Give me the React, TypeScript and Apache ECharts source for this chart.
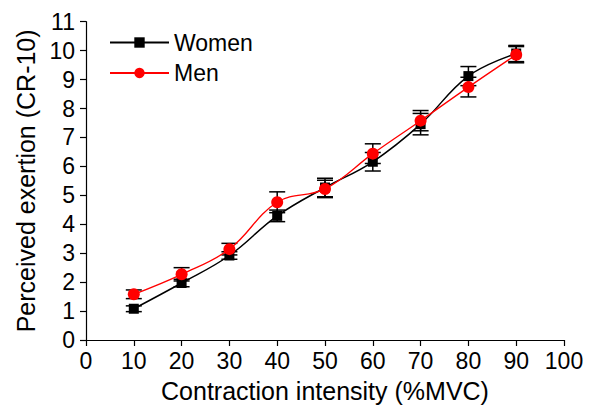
import React, { useEffect, useRef } from "react";
import * as echarts from "echarts";

const intensities = [10, 20, 30, 40, 50, 60, 70, 80, 90];
const womenMean = [1.08, 1.97, 2.92, 4.29, 5.27, 6.16, 7.46, 9.12, 9.9];
const womenErr = [0.1, 0.13, 0.13, 0.2, 0.32, 0.32, 0.37, 0.33, 0.28];
const menMean = [1.58, 2.27, 3.14, 4.76, 5.22, 6.44, 7.58, 8.74, 9.86];
const menErr = [0.15, 0.23, 0.2, 0.36, 0.3, 0.34, 0.35, 0.34, 0.28];
const xTicks = { min: 0, max: 100, interval: 10 };
const yTicks = { min: 0, max: 11, interval: 1 };

const FONT = "'Liberation Sans', Arial, sans-serif";

function errorSeries(name: string, means: number[], errs: number[]) {
  return {
    type: "custom",
    name: name + " error",
    z: 1,
    encode: { x: 0, y: [1, 2] },
    data: intensities.map((x, i) => [x, means[i] - errs[i], means[i] + errs[i]]),
    renderItem: (params: any, api: any) => {
      const x = api.value(0);
      const lo = api.coord([x, api.value(1)]);
      const hi = api.coord([x, api.value(2)]);
      const hw = 8;
      const style = { stroke: "#000", lineWidth: 1.5 };
      return {
        type: "group",
        children: [
          { type: "line", shape: { x1: lo[0], y1: lo[1], x2: hi[0], y2: hi[1] }, style },
          { type: "line", shape: { x1: lo[0] - hw, y1: lo[1], x2: lo[0] + hw, y2: lo[1] }, style },
          { type: "line", shape: { x1: hi[0] - hw, y1: hi[1], x2: hi[0] + hw, y2: hi[1] }, style },
        ],
      };
    },
  };
}

export default function App() {
  const ref = useRef<HTMLDivElement>(null);
  useEffect(() => {
    if (!ref.current) return;
    const chart = echarts.init(ref.current, undefined, { renderer: "svg" });
    const axisCommon = {
      axisLine: { show: true, lineStyle: { color: "#000", width: 1.2 } },
      axisTick: { show: true, inside: false, length: 6, lineStyle: { color: "#000", width: 1.2 } },
      splitLine: { show: false },
      nameTextStyle: { fontFamily: FONT, fontSize: 25, color: "#000" },
    };
    chart.setOption({
      animation: false,
      backgroundColor: "#fff",
      textStyle: { fontFamily: FONT },
      grid: { left: 86, right: 28, top: 21.7, bottom: 66, containLabel: false, outerBoundsMode: "none" },
      legend: {
        data: ["Women", "Men"],
        orient: "vertical",
        left: 109,
        top: 31,
        padding: 0,
        itemWidth: 59,
        itemHeight: 13,
        itemGap: 7.5,
        textStyle: { fontFamily: FONT, fontSize: 23, color: "#000", lineHeight: 23 },
      },
      xAxis: {
        type: "value",
        ...xTicks,
        ...axisCommon,
        name: "Contraction intensity (%MVC)",
        nameLocation: "middle",
        nameGap: 38,
        axisLabel: { fontFamily: FONT, fontSize: 23, color: "#000", margin: 9 },
      },
      yAxis: {
        type: "value",
        ...yTicks,
        ...axisCommon,
        name: "Perceived exertion (CR-10)",
        nameLocation: "middle",
        nameGap: 45,
        axisLabel: { fontFamily: FONT, fontSize: 23, color: "#000", margin: 11 },
      },
      series: [
        errorSeries("Women", womenMean, womenErr),
        errorSeries("Men", menMean, menErr),
        {
          type: "line",
          name: "Women",
          z: 3,
          smooth: 0.4,
          data: intensities.map((x, i) => [x, womenMean[i]]),
          symbol: "rect",
          symbolSize: 10,
          itemStyle: { color: "#000" },
          lineStyle: { color: "#000", width: 1.5 },
        },
        {
          type: "line",
          name: "Men",
          z: 4,
          smooth: 0.4,
          data: intensities.map((x, i) => [x, menMean[i]]),
          symbol: "circle",
          symbolSize: 12,
          itemStyle: { color: "#ff0000" },
          lineStyle: { color: "#ff0000", width: 1.3 },
        },
      ],
    });
    return () => chart.dispose();
  }, []);
  return (
    <div
      ref={ref}
      style={{ position: "fixed", left: 0, top: 0, width: 592, height: 406, background: "#fff" }}
    />
  );
}
